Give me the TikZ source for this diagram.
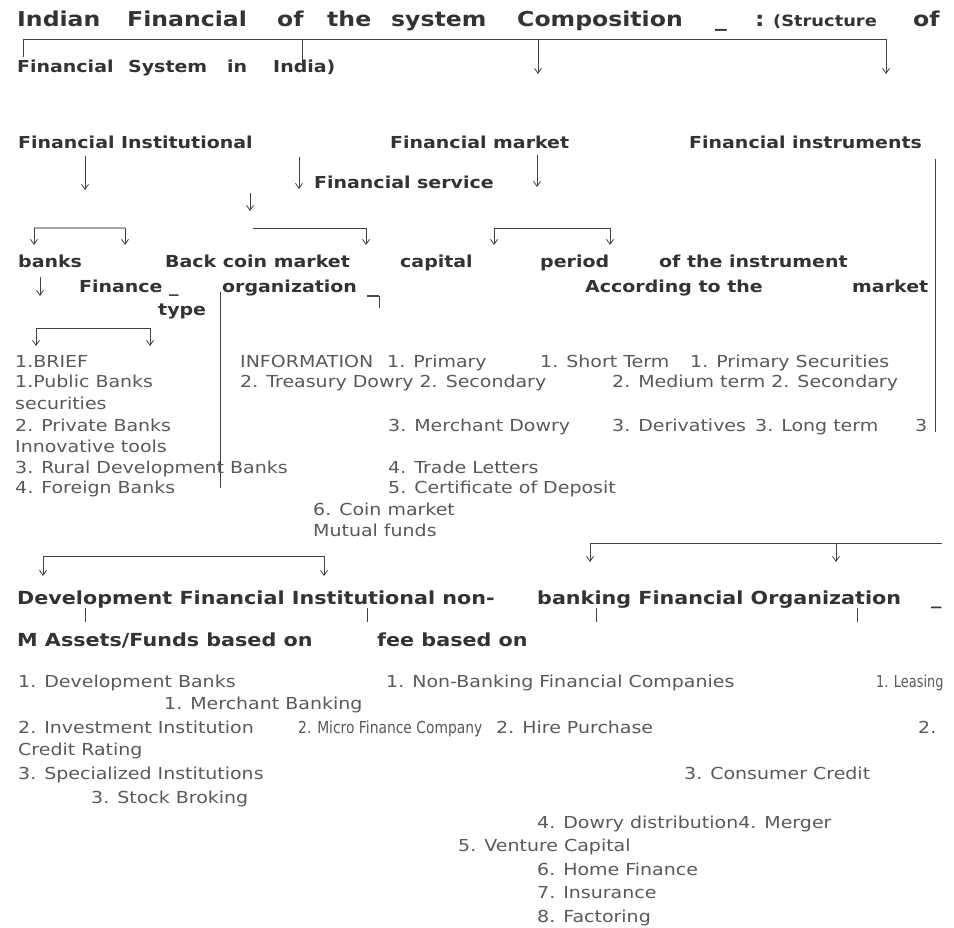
\documentclass[tikz,border=0pt]{standalone}
\usepackage{fontspec}
\setmainfont{DejaVu Sans}[FakeStretch=1.15]
\usetikzlibrary{arrows.meta}

\tikzset{
  ttl/.style={font=\bfseries\fontsize{20.5}{24}\selectfont, text=black!80, anchor=base west, inner sep=0pt},
  hd/.style={font=\bfseries\fontsize{16.5}{20}\selectfont, text=black!80, anchor=base west, inner sep=0pt},
  hdbig/.style={font=\bfseries\fontsize{18}{22}\selectfont, text=black!80, anchor=base west, inner sep=0pt},
  itm/.style={font=\fontsize{16.5}{20}\selectfont, text=black!65, anchor=base west, inner sep=0pt},
  ln/.style={draw=black!75, line width=0.8pt},
  arr/.style={ln, -{Straight Barb[length=5pt, width=7pt]}},
}

\begin{document}
\begin{tikzpicture}[x=1pt, y=-1pt]
    \fill[white] (0,0) rectangle (954,928);
    \useasboundingbox (0,0) rectangle (954,928);

    % title
    \node[ttl] (t1) at (17,27) {Indian};
    \node[ttl] (t2) at (127,27) {Financial};
    \node[ttl] (t3) at (277,27) {of};
    \node[ttl] (t4) at (327,27) {the};
    \node[ttl] (t5) at (391,27) {system};
    \node[ttl] (t6) at (517,27) {Composition};
    \node[ttl] (t7) at (715,27) {\_};
    \node[ttl] (t8) at (755,27) {:};
    \node[hd, font=\bfseries\fontsize{15.5}{18}\selectfont] (t9) at (773,27) {(Structure};
    \node[ttl] (t10) at (913,27) {of};
    \node[hd] (s1) at (17,73) {Financial};
    \node[hd] (s2) at (128,73) {System};
    \node[hd] (s3) at (227,73) {in};
    \node[hd] (s4) at (273,73) {India)};

    \coordinate (top1) at (23,39);
    \coordinate (top2) at (302,39);
    \coordinate (top3) at (538,39);
    \coordinate (top4) at (886,39);
    \draw[ln] (top1) -- (top4);
    \draw[ln] (top1) -- ++(0,18);
    \draw[ln] (top2) -- ++(0,28);
    \draw[arr] (top3) -- ++(0,35);
    \draw[arr] (top4) -- ++(0,35);

    % three branches
    \node[hd] (inst) at (18,149) {Financial Institutional};
    \node[hd] (mkt) at (390,149) {Financial market};
    \node[hd] (instr) at (689,149) {Financial instruments};
    \node[hd] (serv) at (314,189) {Financial service};

    \draw[arr] (85,156) -- (85,190);
    \draw[arr] (299,157) -- (299,189);
    \draw[arr] (537,155) -- (537,187);
    \draw[arr] (250,193) -- (250,211);
    \draw[ln] (935,159) -- (935,432);

    \draw[line width=1.6pt, black!35] (34,228) -- (125,228);
    \draw[arr] (34,228) -- (34,245);
    \draw[arr] (125,228) -- (125,245);
    \draw[ln] (253,228) -- (366,228);
    \draw[arr] (366,228) -- (366,245);
    \draw[ln] (494,228) -- (610,228);
    \draw[arr] (494,228) -- (494,245);
    \draw[arr] (610,228) -- (610,245);

    \node[hd] (banks) at (18,268) {banks};
    \node[hd] (backcoin) at (165,268) {Back coin market};
    \node[hd] (capital) at (400,268) {capital};
    \node[hd] (period) at (540,268) {period};
    \node[hd] (ofinstr) at (659,268) {of the instrument};

    \draw[arr] (40,277) -- (40,296);
    \node[hd] (finorg) at (79,293) {Finance \_};
    \node[hd] (org) at (222,293) {organization};
    \node[hd] (accord) at (585,293) {According to the};
    \node[hd] (market) at (852,293) {market};
    \node[hd] (type) at (158,316) {type};

    \draw[line width=2pt, black!70] (367,296) -- (379,296);
    \draw[ln] (379,296) -- (379,308);
    \draw[ln] (220,292) -- (220,488);

    \draw[ln] (36,328) -- (150,328);
    \draw[arr] (36,328) -- (36,346);
    \draw[arr] (150,328) -- (150,346);

    % items, upper block
    \node[itm] (b1) at (15,367) {1.BRIEF};
    \node[itm] (b2) at (15,388) {1.Public Banks};
    \node[itm] (b3) at (15,409) {securities};
    \node[itm] (b4) at (15,431) {2. Private Banks};
    \node[itm] (b5) at (15,452) {Innovative tools};
    \node[itm] (b6) at (15,473) {3. Rural Development Banks};
    \node[itm] (b7) at (15,493) {4. Foreign Banks};

    \node[itm] (m1) at (240,367) {INFORMATION};
    \node[itm] (m2) at (387,367) {1. Primary};
    \node[itm] (m3) at (240,388) {2. Treasury Dowry 2. Secondary};
    \node[itm] (m4) at (388,431) {3. Merchant Dowry};
    \node[itm] (m5) at (388,473) {4. Trade Letters};
    \node[itm] (m6) at (388,493) {5. Certificate of Deposit};
    \node[itm] (m7) at (313,515) {6. Coin market};
    \node[itm] (m8) at (313,536) {Mutual funds};

    \node[itm] (p1) at (540,367) {1. Short Term};
    \node[itm] (p2) at (690,367) {1. Primary Securities};
    \node[itm] (p3) at (612,388) {2. Medium term 2. Secondary};
    \node[itm] (p4) at (612,431) {3. Derivatives};
    \node[itm] (p5) at (755,431) {3. Long term};
    \node[itm] (p6) at (915,431) {3};

    % lower part
    \draw[ln] (590,543) -- (942,543);
    \draw[arr] (590,543) -- (590,562);
    \draw[arr] (836,543) -- (836,562);
    \draw[ln] (43,556) -- (324,556);
    \draw[arr] (43,556) -- (43,576);
    \draw[arr] (324,556) -- (324,576);

    \node[hdbig] (dfi) at (17,604) {Development Financial Institutional non-};
    \node[hdbig] (nbfo) at (537,604) {banking Financial Organization};
    \node[hdbig] (dash) at (931,604) {\_};
    \draw[ln] (85,608) -- (85,622);
    \draw[ln] (367,608) -- (367,622);
    \draw[ln] (596,608) -- (596,622);
    \draw[ln] (857,608) -- (857,622);
    \node[hdbig] (assets) at (17,646) {M Assets/Funds based on};
    \node[hdbig] (fee) at (377,646) {fee based on};

    \node[itm] (d1) at (18,687) {1. Development Banks};
    \node[itm] (d2) at (18,733) {2. Investment Institution};
    \node[itm] (d3) at (18,779) {3. Specialized Institutions};
    \node[itm] (n1) at (386,687) {1. Non-Banking Financial Companies};
    \node[itm] (n2) at (298,733) {\scalebox{0.73}[1]{2. Micro Finance Company}};
    \node[itm] (f1) at (876,687) {\scalebox{0.68}[1]{1. Leasing}};
    \node[itm] (f2) at (496,733) {2. Hire Purchase};
    \node[itm] (f3) at (684,779) {3. Consumer Credit};
    \node[itm] (f4) at (537,828) {4. Dowry distribution4. Merger};
    \node[itm] (f5) at (458,851) {5. Venture Capital};
    \node[itm] (f6) at (537,875) {6. Home Finance};
    \node[itm] (f7) at (537,898) {7. Insurance};
    \node[itm] (f8) at (537,922) {8. Factoring};
    \node[itm] (e1) at (164,709) {1. Merchant Banking};
    \node[itm] (e2) at (918,733) {2.};
    \node[itm] (e2b) at (18,755) {Credit Rating};
    \node[itm] (e3) at (91,803) {3. Stock Broking};
\end{tikzpicture}
\end{document}
